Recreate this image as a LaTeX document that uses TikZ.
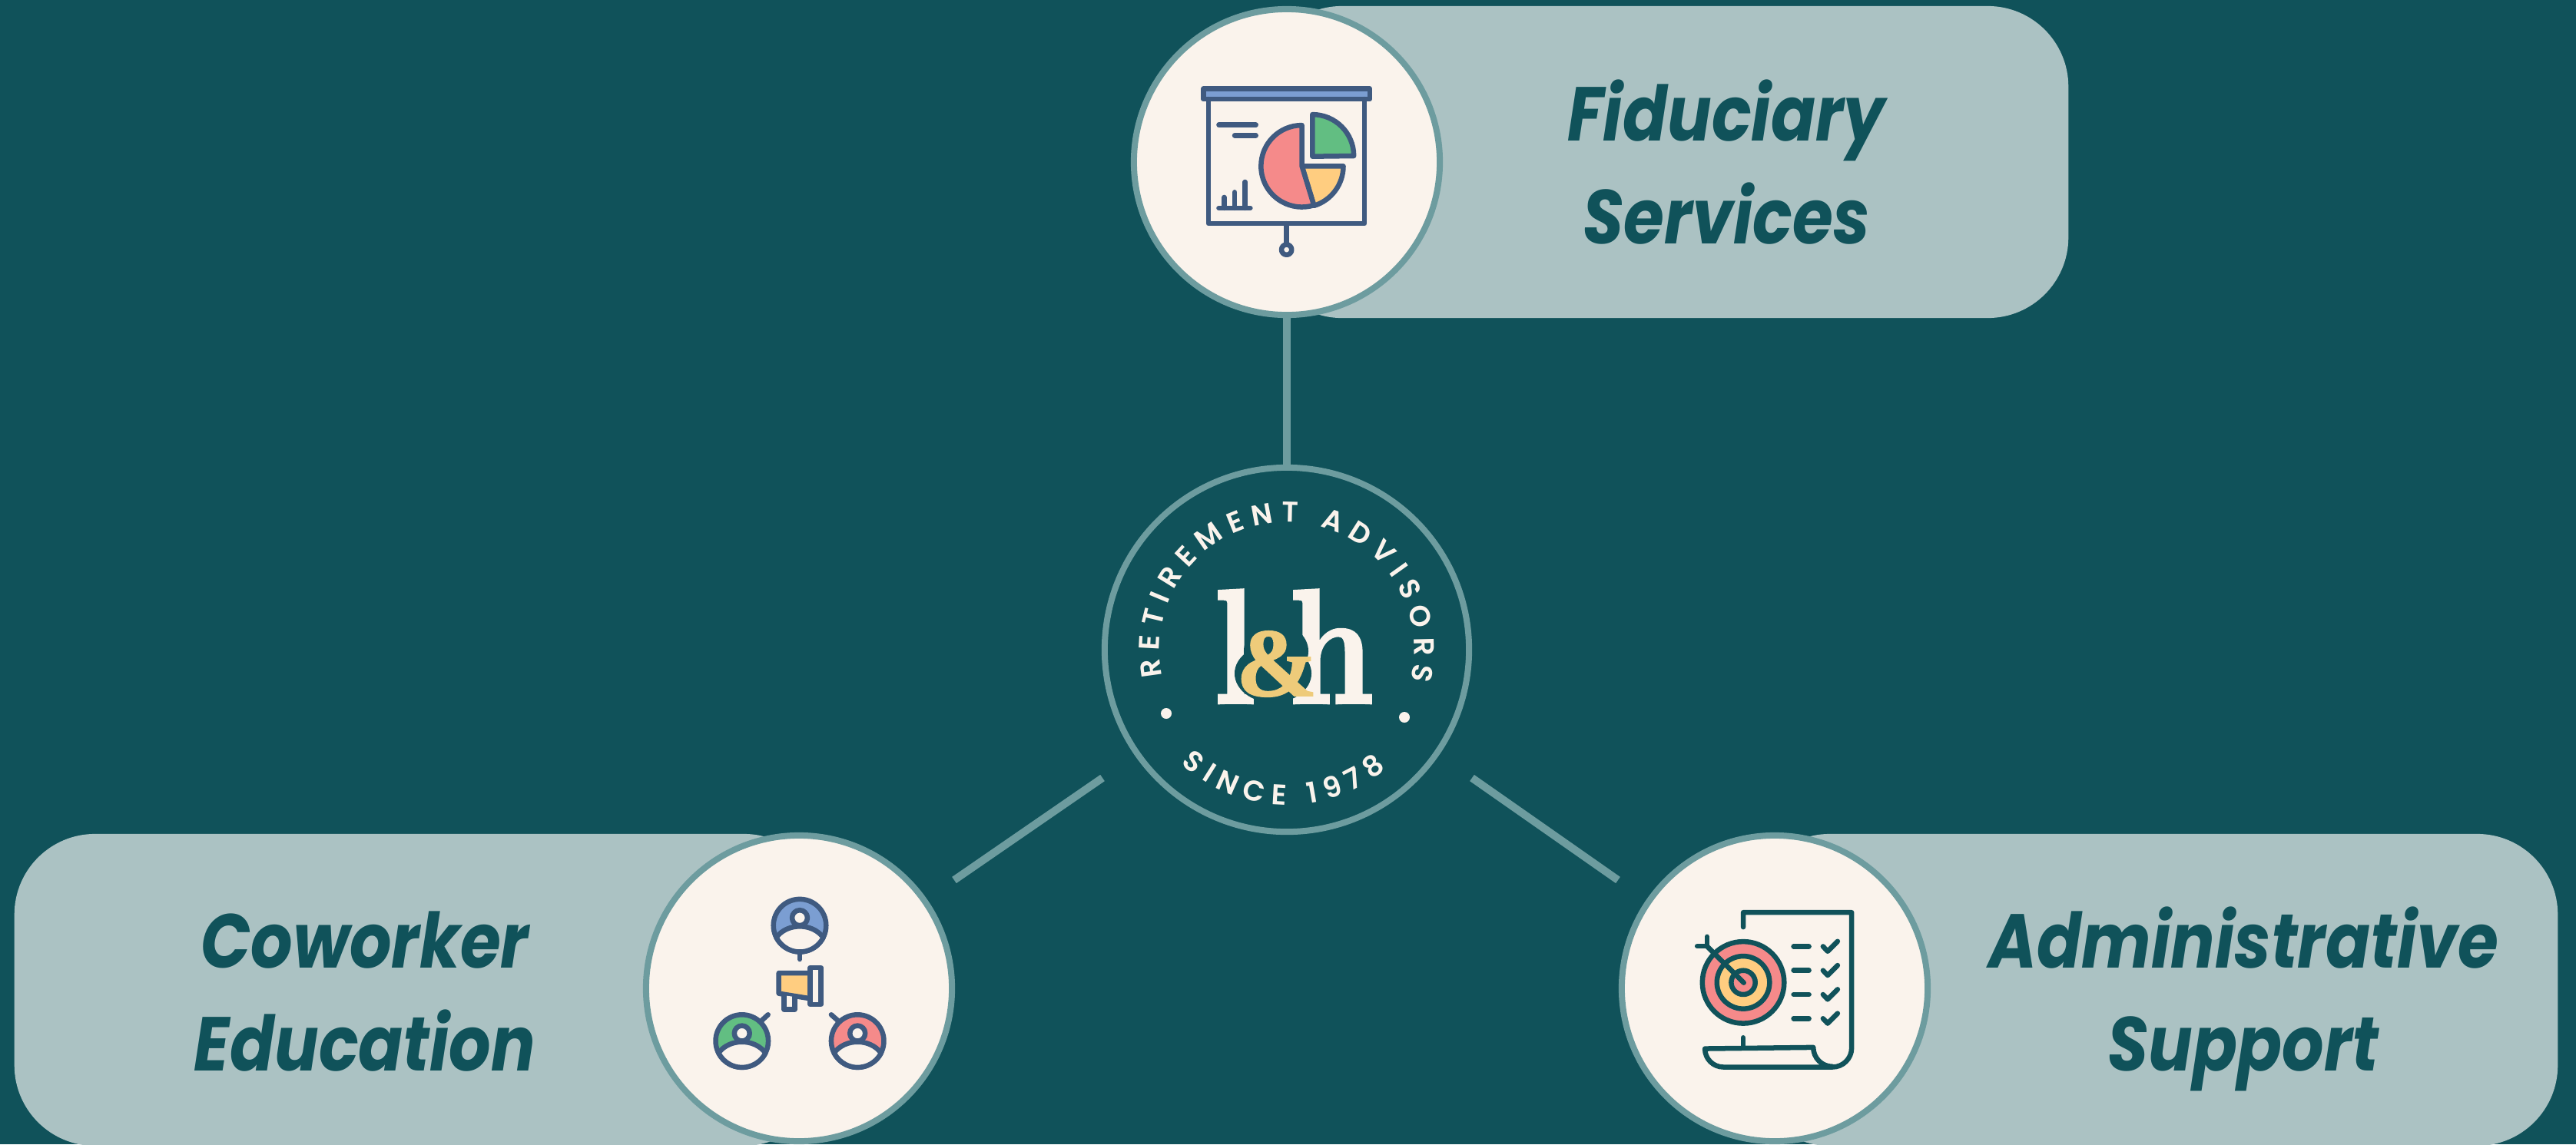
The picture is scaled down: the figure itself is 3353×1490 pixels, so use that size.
\documentclass[tikz,border=0pt]{standalone}
\usepackage{fontspec}
\usetikzlibrary{decorations.text}
\newfontfamily\labelfont[FakeStretch=.86]{Poppins}
\newfontfamily\badgefont[UprightFont=* SemiBold]{Poppins}
\newfontfamily\ampfont{Liberation Serif}
\definecolor{bgteal}{HTML}{10525A}
\definecolor{ringteal}{HTML}{6D9C9F}
\definecolor{pillteal}{HTML}{ABC2C3}
\definecolor{cream}{HTML}{FAF3EC}
\definecolor{navyline}{HTML}{3F5A80}
\definecolor{bluefill}{HTML}{7B9ED2}
\definecolor{redfill}{HTML}{F58A8A}
\definecolor{greenfill}{HTML}{62BE82}
\definecolor{yellowfill}{HTML}{FFCD80}
\definecolor{goldamp}{HTML}{EECB7A}
\newcommand{\zu}{.003333cm}
\newcommand{\fatten}[2]{\special{pdf:code 2 Tr #1 w}#2\special{pdf:code 0 Tr}}
\tikzset{
  pillbox/.style={fill=pillteal,rounded corners=1.05cm,minimum height=4.06cm,inner sep=0},
  iconring/.style={circle,draw=ringteal,fill=cream,line width=.08cm,minimum size=3.98cm,inner sep=0},
  linkline/.style={draw=ringteal,line width=.1cm},
  pilltext/.style={text=bgteal,align=center,font=\labelfont\bfseries\itshape\fontsize{28.3}{38.2}\selectfont},
  logotext/.style={text=cream,font=\bfseries\fontsize{60}{60}\selectfont,inner sep=0,anchor=base,xscale=.84,transform shape},
  iconline/.style={line width=1.85pt,line join=round,line cap=round},
  zoomunits/.style={x=\zu,y=-\zu}
}
\begin{document}
\begin{tikzpicture}[x=.01cm,y=-.01cm]
  \fill[bgteal](0,0)rectangle(3353,1490);
  \useasboundingbox(0,0)rectangle(3353,1490);
  % pills
  \node[pillbox,minimum width=10.5cm](fiducpill)at(2167,211){};
  \node[pillbox,minimum width=10.54cm](eduppill)at(546,1289){};
  \node[pillbox,minimum width=10.52cm](adminpill)at(2803,1289){};
  % circles
  \node[iconring](fiduc)at(1675,211){};
  \node[iconring](edu)at(1040,1287){};
  \node[iconring](admin)at(2310,1287){};
  \node[circle,draw=ringteal,line width=.08cm,minimum size=4.74cm,inner sep=0](badge)at(1675,846){};
  % connectors
  \coordinate(eduend)at(1242,1146);\coordinate(badgeleft)at(1435,1013);
  \coordinate(adminend)at(2106,1146);\coordinate(badgeright)at(1916,1013);
  \draw[linkline](fiduc.south)--(badge.north);
  \draw[linkline](badgeleft)--(eduend);
  \draw[linkline](badgeright)--(adminend);
  % labels
  \node[pilltext](fiductext)at(2247,211){Fiduciary\\Services};
  \node[pilltext](edutext)at(475,1291){Coworker\\Education};
  \node[pilltext](admintext)at(2920,1301){Administrative\\Support};
  % badge texts
  \path[decorate,decoration={text along path,text align=fit to path,
      text={|\badgefont\fontsize{10.6}{12}\selectfont\color{cream}|RETIREMENT ADVISORS}}]
    ([shift={(192:1.66cm)}]badge.center)arc(192:-14:1.66cm);
  \path[decorate,decoration={text along path,text align=fit to path,
      text={|\badgefont\fontsize{10.6}{12}\selectfont\color{cream}|SINCE 1978}}]
    ([shift={(227:2.02cm)}]badge.center)arc(227:310:2.02cm);
  \fill[cream](1518,929)circle[radius=.07cm];
  \fill[cream](1828,934)circle[radius=.07cm];
  % logo
  \node[logotext](logol)at(1607,915){\fatten{1.3}{l}};
  \node[logotext](logoh)at(1733,915){\fatten{1.3}{h}};
  \fill[bgteal](1661,848)ellipse[x radius=.42cm,y radius=.36cm];
  \fill[bgteal](1657,877)ellipse[x radius=.5cm,y radius=.38cm];
  \node[text=goldamp,font=\ampfont\bfseries\fontsize{36}{36}\selectfont,inner sep=0,anchor=base](logoamp)at(1662,906){\fatten{.5}{\&}};
  % chart icon
  \begin{scope}[shift={(1450,0)},zoomunits,draw=navyline,iconline]
    \draw[fill=bluefill](350,347)rectangle(1000,388);
    \draw(370,388)--(370,875)--(980,875)--(980,388);
    \draw(675,875)--(675,957);
    \draw(675,977)circle[radius=20*\zu];
    \draw(410,489)--(555,489);
    \draw(472,530)--(555,530);
    \draw(410,814)--(533,814);
    \foreach \x/\y in {431/772,472/752,513/712}\draw(\x,814)--(\x,\y);
    \draw[fill=greenfill](776,612)--(776,448)arc(90:0:162*\zu)--cycle;
    \draw[fill=yellowfill](735,650)--(897,650)arc(0:-73:162*\zu)--cycle;
    \draw[fill=redfill](735,650)--(735,490)arc(90:287:160*\zu)--cycle;
  \end{scope}
  % people icon
  \begin{scope}[shift={(830,1080)},zoomunits,draw=navyline,iconline]
    \foreach \cx/\cy/\col in {634/376/bluefill,408/828/greenfill,860/828/redfill}{
      \draw[fill=\col](\cx,\cy)circle[radius=103*\zu];
      \draw[fill=cream](\cx-92,\cy+47).. controls (\cx-49,\cy-11) and (\cx+49,\cy-11) ..(\cx+92,\cy+47)
        arc(-27:-153:103*\zu)--cycle;
      \draw[fill=cream](\cx,\cy-30)circle[radius=30*\zu];
    }
    \draw(634,490)--(634,508);
    \draw(485,748)--(510,725);
    \draw(783,748)--(757,725);
    \draw[fill=yellowfill](552,562)--(675,562)--(675,662)--(552,642)--cycle;
    \draw[fill=cream](675,541)rectangle(717,685);
    \draw[fill=cream](573,650)--(573,705)--(614,705)--(614,655);
  \end{scope}
  % target icon
  \begin{scope}[shift={(2100,1080)},zoomunits,draw=bgteal,iconline]
    \draw(508,382)--(508,325)--(932,325)--(932,855)arc(0:-90:75*\zu)--(430,930)arc(-90:-180:72*\zu)--(782,853)arc(180:270:75*\zu);
    \draw(508,815)--(508,853);
    \draw[fill=redfill](508,599)circle[radius=160*\zu];
    \draw[fill=yellowfill](508,599)circle[radius=103*\zu];
    \draw[fill=redfill](508,599)circle[radius=47*\zu];
    \draw(366,457)--(510,600);
    \draw(366,420)--(366,457)--(328,457);
    \foreach \y in {458,552,646,740}{
      \draw(705,\y)--(765,\y);
      \draw(820,\y)--(838,\y+19)--(877,\y-20);
    }
  \end{scope}
\end{tikzpicture}
\end{document}
